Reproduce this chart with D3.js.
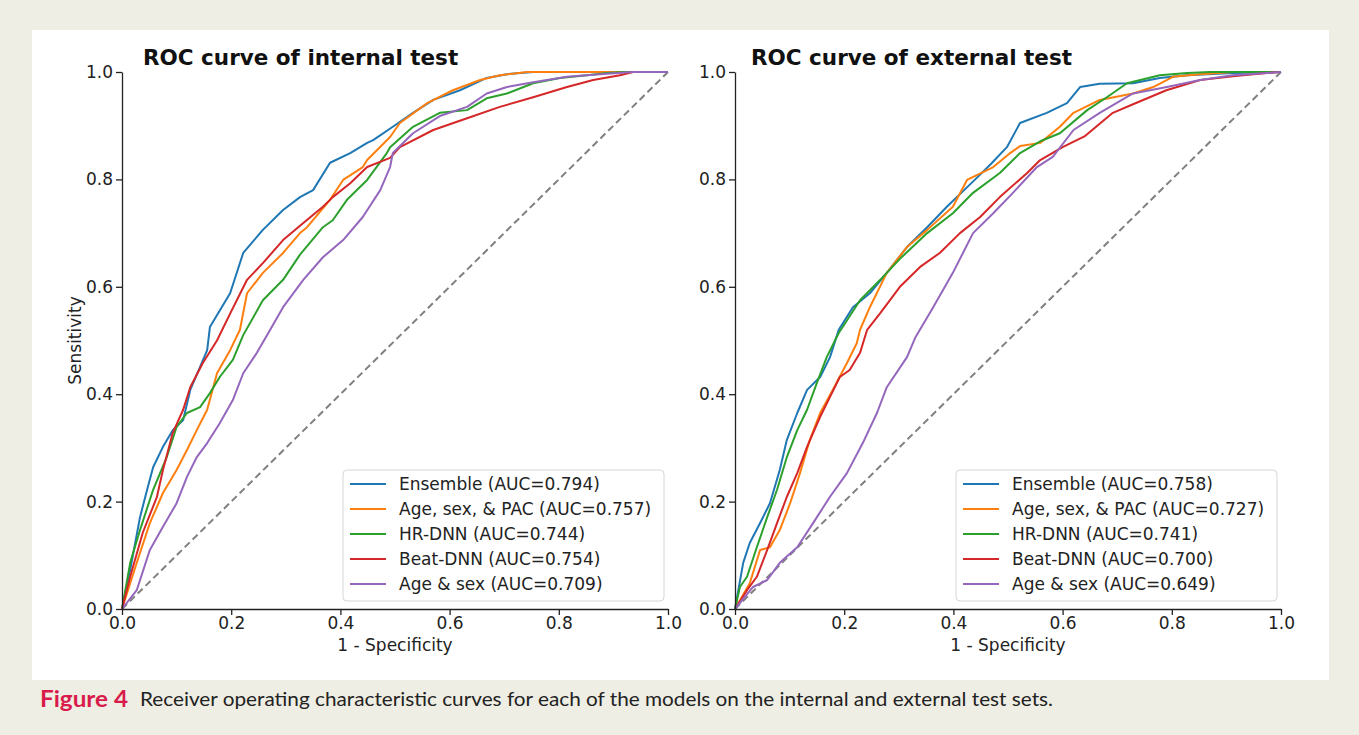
<!DOCTYPE html>
<html>
<head>
	<meta charset="utf-8">
	<title>ROC curves</title>
	<style>
		body { margin: 0; background: #efeee4; }
		svg { display: block; }
	</style>
</head>
<body>

<svg id="fig" width="1359" height="735"></svg>

<script src="https://d3js.org/d3.v7.min.js"></script>
<script>
	// -------------------------------------------------------------
	// Data: [1 - specificity, sensitivity]

	const models = ['Ensemble', 'Age, sex, & PAC', 'HR-DNN', 'Beat-DNN', 'Age & sex']
	const internalAuc = ['0.794', '0.757', '0.744', '0.754', '0.709']
	const externalAuc = ['0.758', '0.727', '0.741', '0.700', '0.649']
	const ticks = [0, 0.2, 0.4, 0.6, 0.8, 1.0]

	const intEnsemble = [[0,0],[0.015,0.073],[0.033,0.171],[0.046,0.222],[0.057,0.264],[0.075,0.302],[0.093,0.333],[0.112,0.352],[0.125,0.408],[0.143,0.451],[0.156,0.482],[0.161,0.525],[0.198,0.588],[0.222,0.663],[0.258,0.706],[0.295,0.743],[0.326,0.767],[0.35,0.78],[0.381,0.831],[0.418,0.849],[0.449,0.868],[0.46,0.873],[0.496,0.898],[0.533,0.924],[0.57,0.948],[0.619,0.966],[0.668,0.989],[0.705,0.996],[0.753,1],[1,1]]
	const intPac = [[0,0],[0.027,0.086],[0.051,0.16],[0.075,0.216],[0.1,0.259],[0.119,0.296],[0.137,0.333],[0.156,0.371],[0.174,0.439],[0.198,0.482],[0.216,0.52],[0.229,0.588],[0.258,0.626],[0.295,0.663],[0.326,0.7],[0.339,0.711],[0.381,0.762],[0.405,0.799],[0.441,0.823],[0.449,0.836],[0.491,0.879],[0.509,0.905],[0.559,0.942],[0.606,0.966],[0.656,0.985],[0.692,0.994],[0.742,1],[1,1]]
	const intHr = [[0,0],[0.015,0.086],[0.033,0.147],[0.057,0.222],[0.082,0.283],[0.1,0.339],[0.119,0.365],[0.143,0.376],[0.161,0.402],[0.179,0.432],[0.203,0.464],[0.222,0.51],[0.258,0.575],[0.295,0.613],[0.326,0.66],[0.368,0.711],[0.386,0.724],[0.412,0.762],[0.449,0.799],[0.485,0.849],[0.491,0.86],[0.533,0.898],[0.582,0.924],[0.632,0.929],[0.668,0.951],[0.705,0.96],[0.753,0.979],[0.802,0.989],[0.852,0.994],[0.888,0.998],[0.92,1],[1,1]]
	const intBeat = [[0,0],[0.015,0.06],[0.038,0.142],[0.064,0.209],[0.075,0.259],[0.093,0.328],[0.112,0.371],[0.125,0.413],[0.148,0.458],[0.174,0.5],[0.198,0.55],[0.229,0.613],[0.258,0.644],[0.295,0.687],[0.332,0.719],[0.368,0.749],[0.386,0.767],[0.418,0.793],[0.449,0.823],[0.491,0.84],[0.509,0.86],[0.57,0.892],[0.632,0.914],[0.692,0.935],[0.753,0.953],[0.815,0.972],[0.863,0.985],[0.912,0.994],[0.936,1],[1,1]]
	const intAge = [[0,0],[0.027,0.035],[0.051,0.11],[0.075,0.153],[0.1,0.197],[0.119,0.246],[0.137,0.283],[0.156,0.309],[0.179,0.346],[0.203,0.389],[0.222,0.439],[0.247,0.477],[0.268,0.514],[0.295,0.562],[0.332,0.613],[0.368,0.655],[0.405,0.687],[0.441,0.73],[0.473,0.78],[0.491,0.823],[0.496,0.849],[0.533,0.886],[0.582,0.918],[0.632,0.935],[0.668,0.96],[0.705,0.972],[0.753,0.981],[0.815,0.991],[0.875,0.996],[0.936,1],[1,1]]

	const extEnsemble = [[0,0],[0.015,0.086],[0.027,0.123],[0.046,0.16],[0.064,0.197],[0.082,0.259],[0.095,0.315],[0.114,0.365],[0.132,0.408],[0.156,0.432],[0.174,0.469],[0.19,0.52],[0.216,0.562],[0.247,0.588],[0.278,0.626],[0.315,0.674],[0.352,0.711],[0.388,0.749],[0.44,0.8],[0.47,0.83],[0.498,0.86],[0.522,0.905],[0.571,0.924],[0.608,0.942],[0.632,0.972],[0.668,0.978],[0.729,0.979],[0.778,0.989],[0.828,0.994],[0.912,0.998],[1,1]]
	const extPac = [[0,0],[0.027,0.048],[0.046,0.11],[0.064,0.115],[0.082,0.147],[0.101,0.197],[0.119,0.253],[0.137,0.315],[0.156,0.365],[0.179,0.408],[0.205,0.458],[0.223,0.495],[0.229,0.52],[0.247,0.562],[0.278,0.626],[0.315,0.674],[0.352,0.706],[0.399,0.749],[0.425,0.799],[0.473,0.823],[0.504,0.849],[0.522,0.862],[0.559,0.868],[0.595,0.898],[0.62,0.924],[0.668,0.948],[0.729,0.96],[0.766,0.972],[0.802,0.991],[0.852,0.996],[0.912,1],[1,1]]
	const extHr = [[0,0],[0.009,0.041],[0.022,0.06],[0.04,0.115],[0.059,0.171],[0.077,0.222],[0.095,0.283],[0.114,0.333],[0.132,0.371],[0.15,0.421],[0.168,0.469],[0.19,0.514],[0.229,0.575],[0.266,0.613],[0.302,0.652],[0.352,0.7],[0.399,0.737],[0.436,0.775],[0.485,0.812],[0.522,0.849],[0.559,0.871],[0.595,0.886],[0.645,0.929],[0.681,0.953],[0.718,0.979],[0.778,0.994],[0.828,0.998],[0.87,1],[1,1]]
	const extBeat = [[0,0],[0.022,0.035],[0.04,0.06],[0.059,0.11],[0.077,0.16],[0.095,0.209],[0.114,0.253],[0.132,0.302],[0.156,0.358],[0.174,0.395],[0.192,0.432],[0.21,0.445],[0.229,0.477],[0.242,0.52],[0.266,0.551],[0.302,0.6],[0.339,0.637],[0.375,0.663],[0.412,0.7],[0.449,0.73],[0.485,0.767],[0.535,0.812],[0.559,0.836],[0.6,0.86],[0.64,0.88],[0.692,0.924],[0.729,0.94],[0.79,0.966],[0.852,0.985],[0.912,0.992],[0.974,0.998],[1,1]]
	const extAge = [[0,0],[0.033,0.041],[0.059,0.054],[0.082,0.086],[0.114,0.115],[0.143,0.16],[0.174,0.209],[0.205,0.253],[0.234,0.309],[0.26,0.365],[0.278,0.413],[0.315,0.469],[0.33,0.505],[0.363,0.562],[0.399,0.626],[0.436,0.7],[0.473,0.737],[0.509,0.775],[0.553,0.823],[0.582,0.842],[0.62,0.892],[0.668,0.924],[0.729,0.96],[0.791,0.972],[0.852,0.985],[0.912,0.994],[0.974,0.998],[1,1]]

	const colors = ['#1f77b4', '#ff7f0e', '#2ca02c', '#d62728', '#9467bd']

	// -------------------------------------------------------------

	const svg = d3.select('#fig')
	const font = 'DejaVu Sans, sans-serif'

	// white figure panel on the beige page
	svg.append('rect')
		.attr('x', 32).attr('y', 30)
		.attr('width', 1297).attr('height', 650)
		.attr('fill', '#ffffff')

	function drawPanel(left, title, titleX, curves, aucs, yLabel) {
		const x = d3.scaleLinear().domain([0, 1]).range([left, left + 546])
		const y = d3.scaleLinear().domain([0, 1]).range([609, 72])
		const g = svg.append('g')

		// chance line
		g.append('path')
			.attr('d', d3.line()([[x(0), y(0)], [x(1), y(1)]]))
			.attr('stroke', '#808080')
			.attr('stroke-width', 2)
			.attr('stroke-dasharray', '7,4')
			.attr('fill', 'none')

		const line = d3.line()
			.x(d => x(d[0]))
			.y(d => y(d[1]))

		curves.forEach((c, i) => {
			g.append('path')
				.attr('d', line(c))
				.attr('stroke', colors[i])
				.attr('stroke-width', 2)
				.attr('stroke-linejoin', 'round')
				.attr('fill', 'none')
		})

		// axes: only left and bottom spines, like matplotlib with the top/right hidden
		const xAxis = g.append('g')
			.attr('transform', `translate(0, ${y(0)})`)
			.call(d3.axisBottom(x).tickValues(ticks).tickFormat(d3.format('.1f')).tickSize(6).tickSizeOuter(0).tickPadding(2))
		const yAxis = g.append('g')
			.attr('transform', `translate(${x(0)}, 0)`)
			.call(d3.axisLeft(y).tickValues(ticks).tickFormat(d3.format('.1f')).tickSize(6).tickSizeOuter(0).tickPadding(3))

		;[xAxis, yAxis].forEach(a => {
			a.select('.domain').attr('stroke', '#222').attr('stroke-width', 1.3)
			a.selectAll('.tick line').attr('stroke', '#222').attr('stroke-width', 1.3)
			a.selectAll('.tick text')
				.attr('fill', '#222')
				.style('font-family', font)
				.style('font-size', '17px')
		})

		g.append('text')
			.attr('x', x(0.5)).attr('y', 651)
			.attr('text-anchor', 'middle')
			.style('font-family', font).style('font-size', '17px')
			.attr('fill', '#222')
			.text('1 - Specificity')

		if (yLabel) {
			g.append('text')
				.attr('transform', `translate(81, ${y(0.5)}) rotate(-90)`)
				.attr('text-anchor', 'middle')
				.style('font-family', font).style('font-size', '17px')
				.attr('fill', '#222')
				.text(yLabel)
		}

		g.append('text')
			.attr('x', titleX).attr('y', 65)
			.style('font-family', font).style('font-size', '21.5px')
			.style('font-weight', 'bold')
			.attr('fill', '#111')
			.text(title)

		// legend box in the lower right corner
		const lx = left + 221
		const legend = g.append('g')
		legend.append('rect')
			.attr('x', lx).attr('y', 470)
			.attr('width', 321).attr('height', 131)
			.attr('rx', 4)
			.attr('fill', 'rgba(255,255,255,0.8)')
			.attr('stroke', '#d6d6d6')

		models.forEach((m, i) => {
			const ly = 484 + i * 25
			legend.append('line')
				.attr('x1', lx + 7).attr('x2', lx + 43)
				.attr('y1', ly).attr('y2', ly)
				.attr('stroke', colors[i]).attr('stroke-width', 2)
			legend.append('text')
				.attr('x', lx + 56).attr('y', ly + 6)
				.style('font-family', font).style('font-size', '17px')
				.attr('fill', '#222')
				.text(`${m} (AUC=${aucs[i]})`)
		})
	}

	drawPanel(122, 'ROC curve of internal test', 143,
		[intEnsemble, intPac, intHr, intBeat, intAge], internalAuc, 'Sensitivity')
	drawPanel(735, 'ROC curve of external test', 751,
		[extEnsemble, extPac, extHr, extBeat, extAge], externalAuc, null)

	// caption under the figure
	svg.append('text')
		.attr('x', 40).attr('y', 707)
		.attr('textLength', 88)
		.attr('lengthAdjust', 'spacingAndGlyphs')
		.style('font-family', 'Lato, sans-serif')
		.style('font-size', '23px')
		.style('font-weight', 'bold')
		.attr('fill', '#d81b4a')
		.text('Figure 4')
	svg.append('text')
		.attr('x', 140).attr('y', 706)
		.attr('textLength', 913)
		.attr('lengthAdjust', 'spacingAndGlyphs')
		.style('font-family', 'Lato, sans-serif')
		.style('font-size', '19px')
		.attr('fill', '#222')
		.text('Receiver operating characteristic curves for each of the models on the internal and external test sets.')
</script>
</body>
</html>
